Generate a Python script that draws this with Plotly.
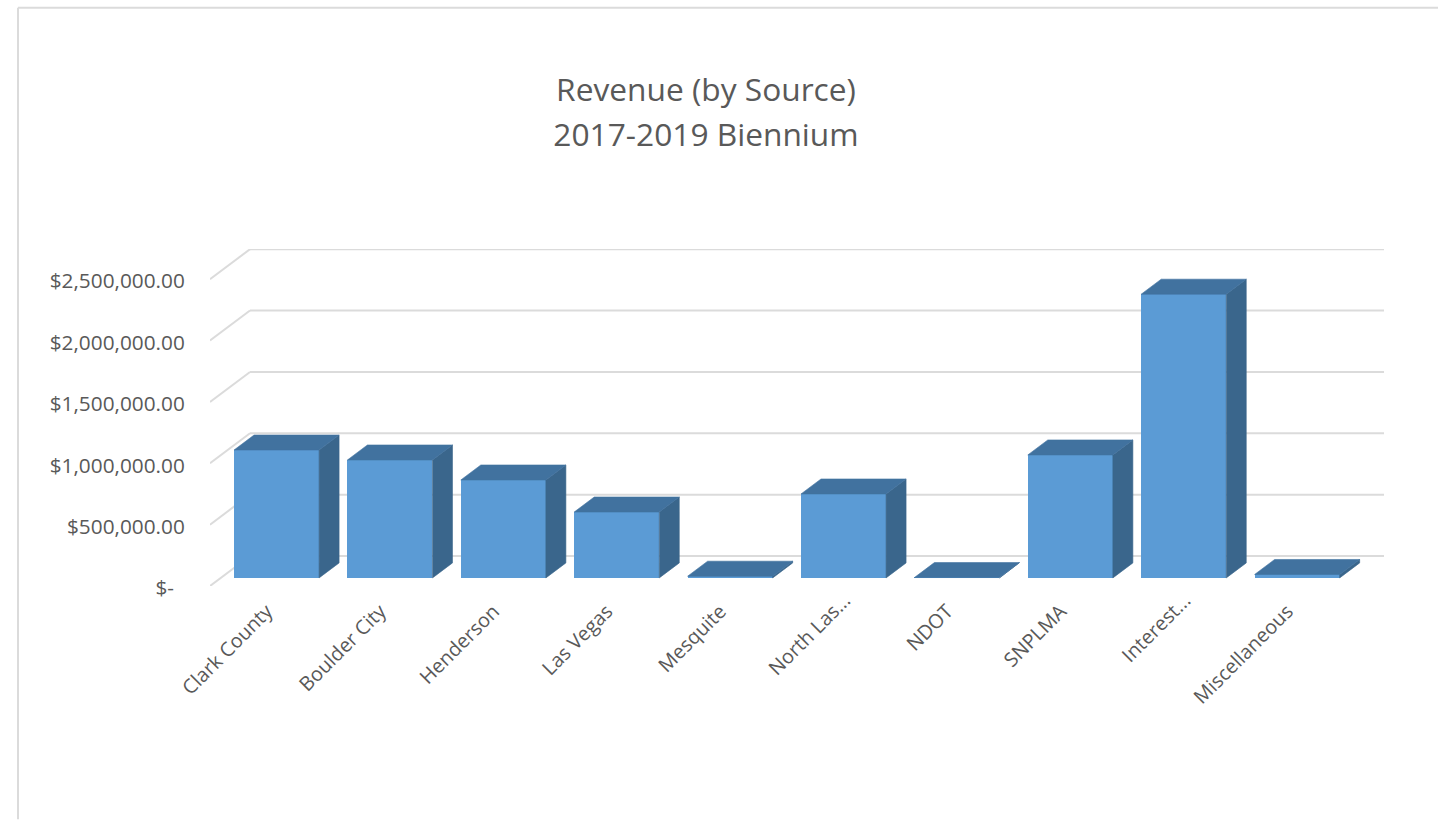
import plotly.graph_objects as go

PAD = "\u00a0\u00a0\u00a0"
categories = ["Clark County" + PAD, "Boulder City" + PAD, "Henderson" + PAD, "Las Vegas" + PAD, "Mesquite" + PAD,
              "North Las...", "NDOT" + PAD, "SNPLMA" + PAD, "Interest...", "Miscellaneous" + PAD]
revenue = [1042000, 961000, 798000, 537000, 14000, 684000, 3000, 1002000, 2312000, 28000]
tick_values = [0, 500000, 1000000, 1500000, 2000000, 2500000]
tick_labels = ["$-\u00a0\u00a0", "$500,000.00", "$1,000,000.00", "$1,500,000.00", "$2,000,000.00", "$2,500,000.00"]

FRONT, TOP, SIDE = "#5B9BD5", "#41729F", "#3A668C"
GRID, TEXT = "#DBDBDB", "#595959"
FONT = "Open Sans"

# Oblique projection: how far one full depth of the box shifts x and y (axis units)
DX, DY = 0.3527, 244300.0
BAR_W = 0.75
D0, D1 = 0.27, 0.77   # bar front and back, as fractions of the box depth (vertical)
X_OFF = 0.087         # horizontal position of the bar front within its category

L, R, T, B = 210, 1384, 249.3, 586.5
Y_MAX = 2746000
X_MIN, X_MAX = -0.5, 9.853

idx = list(range(len(categories)))
fig = go.Figure()

fig.add_trace(go.Bar(
    x=[i + X_OFF for i in idx], y=revenue, base=D0 * DY, width=BAR_W,
    marker=dict(color=FRONT, line=dict(width=0)),
    customdata=categories, hovertemplate="%{customdata}: $%{y:,.2f}<extra></extra>",
    showlegend=False,
))

for i, v in zip(idx, revenue):
    x0 = i + X_OFF - BAR_W / 2
    x1 = x0 + BAR_W
    b0, b1 = D0 * DY, D1 * DY
    sx = (D1 - D0) * DX
    fig.add_trace(go.Scatter(
        x=[x1, x1 + sx, x1 + sx, x1, x1], y=[b0, b1, v + b1, v + b0, b0],
        mode="lines", fill="toself", fillcolor=SIDE, line=dict(width=0.6, color=SIDE),
        hoverinfo="skip", showlegend=False))
    fig.add_trace(go.Scatter(
        x=[x0, x1, x1 + sx, x0 + sx, x0], y=[v + b0, v + b0, v + b1, v + b1, v + b0],
        mode="lines", fill="toself", fillcolor=TOP, line=dict(width=0.6, color=TOP),
        hoverinfo="skip", showlegend=False))

shapes = []
for t in tick_values:
    shapes.append(dict(type="line", xref="x", yref="y", layer="below",
                       x0=X_MIN, y0=t, x1=X_MIN + DX, y1=t + DY,
                       line=dict(color=GRID, width=2)))
    shapes.append(dict(type="line", xref="x", yref="y", layer="below",
                       x0=X_MIN + DX, y0=t + DY, x1=X_MAX, y1=t + DY,
                       line=dict(color=GRID, width=2)))

# Outer chart-area frame (top and left edges visible)
w, h = R - L, B - T
fx = lambda px: (px - L) / w
fy = lambda py: (B - py) / h
shapes.append(dict(type="line", xref="paper", yref="paper", layer="below",
                   x0=fx(18), y0=fy(8), x1=fx(1438), y1=fy(8), line=dict(color=GRID, width=2)))
shapes.append(dict(type="line", xref="paper", yref="paper", layer="below",
                   x0=fx(18), y0=fy(8), x1=fx(18), y1=fy(820), line=dict(color=GRID, width=2)))

fig.update_layout(
    width=1438, height=820,
    margin=dict(l=L, r=1438 - R, t=T, b=820 - B, autoexpand=False),
    paper_bgcolor="white", plot_bgcolor="rgba(0,0,0,0)",
    font=dict(family=FONT, color=TEXT),
    title=dict(
        text="<span style='font-size:31.7px'>Revenue (by Source)</span><br>"
             "<span style='font-size:31.7px'>2017-2019 Biennium</span>",
        x=706 / 1438, xanchor="center", y=1 - 101 / 820, yanchor="top",
        font=dict(family=FONT, size=34.6, color=TEXT)),
    xaxis=dict(range=[X_MIN, X_MAX], tickmode="array",
               tickvals=idx, ticktext=categories,
               tickangle=-45, tickfont=dict(family=FONT, size=19.8, color=TEXT),
               ticks="", ticklabelstandoff=-2, ticklabelshift=11,
               showgrid=False, zeroline=False, showline=False, automargin=False),
    yaxis=dict(range=[0, Y_MAX], tickmode="array", tickvals=tick_values, ticktext=tick_labels,
               tickfont=dict(family=FONT, size=20.8, color=TEXT),
               ticks="outside", ticklen=20, tickcolor="rgba(0,0,0,0)", ticklabelshift=2,
               showgrid=False, zeroline=False, showline=False, automargin=False),
    shapes=shapes,
    showlegend=False,
    bargap=0,
)

fig.write_html("out.html", config={"displayModeBar": False},
               post_script="document.body.style.margin='0';")
